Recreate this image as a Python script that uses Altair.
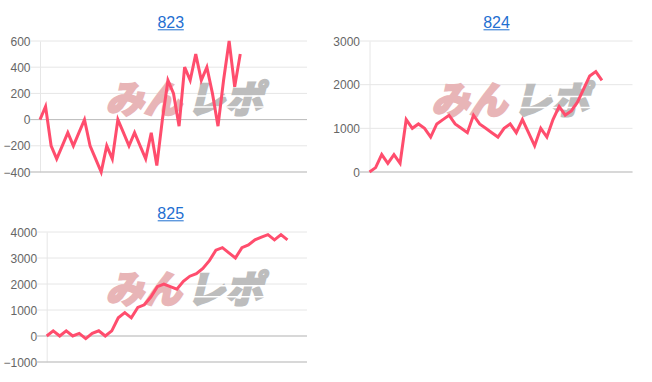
import altair as alt
import pandas as pd

# ---- data ----
titles = ["823", "824", "825"]

v823 = [0, 100, -200, -300, -200, -100, -200, -100, 0, -200, -300, -400, -200, -300,
        0, -100, -200, -100, -200, -300, -100, -350, 0, 300, 200, -50, 400, 300, 500,
        300, 400, 200, -50, 300, 600, 250, 500]
v824 = [0, 100, 400, 200, 400, 200, 1200, 1000, 1100, 1000, 800, 1100, 1200, 1300,
        1100, 1000, 900, 1300, 1100, 1000, 900, 800, 1000, 1100, 900, 1200, 900, 600,
        1000, 800, 1200, 1500, 1300, 1400, 1600, 1900, 2200, 2300, 2100]
v825 = [0, 200, 0, 200, 0, 100, -100, 100, 200, 0, 200, 700, 900, 700, 1100, 1200,
        1500, 1900, 2000, 1900, 1800, 2100, 2300, 2400, 2600, 2900, 3300, 3400, 3200,
        3000, 3400, 3500, 3700, 3800, 3900, 3700, 3900, 3700]

series = [v823, v824, v825]
n_slots = [49, 44, 41]                       # x positions available on each panel
y_domains = [[-400, 600], [0, 3000], [-1000, 4000]]
y_ticks = [[-400, -200, 0, 200, 400, 600],
           [0, 1000, 2000, 3000],
           [-1000, 0, 1000, 2000, 3000, 4000]]
logo_parts = ["みん", "レポ"]

# ---- styling / layout ----
LINE = "#ff4d6d"
BLUE = "#1f6fd1"
GRID = "#e6e6e6"
ZERO = "#bdbdbd"
sizes = [(267, 131), (263, 131), (267, 130)]
inner_x0 = [0, 0, 6.7]                       # where the y axis sits inside the group
title_x = [130.8, 127.0, 130.7]
logo_x = [(103.4, 184.8), (99.7, 181.4), (103.4, 184.8)]
logo_y = [61, 61.5, 59.7]


def panel(k):
    w, h = sizes[k]
    x0 = inner_x0[k]
    vals = series[k]
    df = pd.DataFrame({"i": list(range(len(vals))), "v": vals})
    x = alt.X("i:Q", scale=alt.Scale(domain=[0, n_slots[k] - 1], range=[x0, w],
                                     nice=False, zero=False), axis=None)
    y = alt.Y("v:Q",
              scale=alt.Scale(domain=y_domains[k], nice=False, zero=False),
              axis=alt.Axis(values=y_ticks[k], title=None, grid=False, ticks=False,
                            domainColor=GRID, offset=-x0, format="d",
                            labelPadding=10, labelFont="Liberation Sans",
                            labelFontSize=12, labelColor="#666666"))

    grid = (
        alt.Chart(pd.DataFrame({"v": y_ticks[k]}))
        .mark_rule(color=GRID, strokeWidth=1)
        .encode(y=y, x=alt.value(x0 - 10), x2=alt.value(w))
    )

    wm = []
    colors = ["#e8b5b7", "#bdbdbd"]
    for j, part in enumerate(logo_parts):
        wm.append(
            alt.Chart(pd.DataFrame({"t": [part]}))
            .mark_text(font="Noto Sans CJK JP", fontSize=38, fontWeight=900,
                       fontStyle="italic", align="center", baseline="middle",
                       color=colors[j], stroke=colors[j], strokeWidth=2)
            .encode(text="t:N", x=alt.value(logo_x[k][j]), y=alt.value(logo_y[k]))
        )
    # speed stripes across the grey half of the logo
    stripes = (
        alt.Chart(pd.DataFrame({"s": [-6, 5]}))
        .mark_rule(color="white", strokeWidth=1.5)
        .encode(x=alt.value(logo_x[k][1] - 40), x2=alt.value(logo_x[k][1] + 42),
                y=alt.YValue(logo_y[k]), yOffset=alt.YOffset("s:Q", scale=None))
    )

    ref_vals = sorted(set([0, y_domains[k][0]]))
    rules = (
        alt.Chart(pd.DataFrame({"v": ref_vals}))
        .mark_rule(color=ZERO, strokeWidth=1)
        .encode(y=y, x=alt.value(x0 - 10), x2=alt.value(w))
    )

    line = (
        alt.Chart(df)
        .mark_line(color=LINE, strokeWidth=3, strokeJoin="miter")
        .encode(x=x, y=y)
    )

    ttl = (
        alt.Chart(pd.DataFrame({"t": [titles[k]]}))
        .mark_text(font="Liberation Sans", fontSize=16, color=BLUE,
                   align="center", baseline="alphabetic")
        .encode(text="t:N", x=alt.value(title_x[k]), y=alt.value(-12.7))
    )
    underline = (
        alt.Chart(pd.DataFrame({"t": [titles[k]]}))
        .mark_rule(color=BLUE, strokeWidth=1)
        .encode(x=alt.value(title_x[k] - 13), x2=alt.value(title_x[k] + 13),
                y=alt.value(-11.2))
    )
    return alt.layer(grid, *wm, stripes, rules, line, ttl, underline).properties(width=w, height=h)


chart = (
    alt.concat(panel(0), panel(1), panel(2), columns=2, align="none",
               spacing={"row": 28, "column": 24.5})
    .properties(padding={"left": 2, "top": 15, "right": 0, "bottom": 0},
                background="white")
    .configure_view(stroke=None)
)

chart.save("out.html", embed_options={"renderer": "svg", "actions": False})
